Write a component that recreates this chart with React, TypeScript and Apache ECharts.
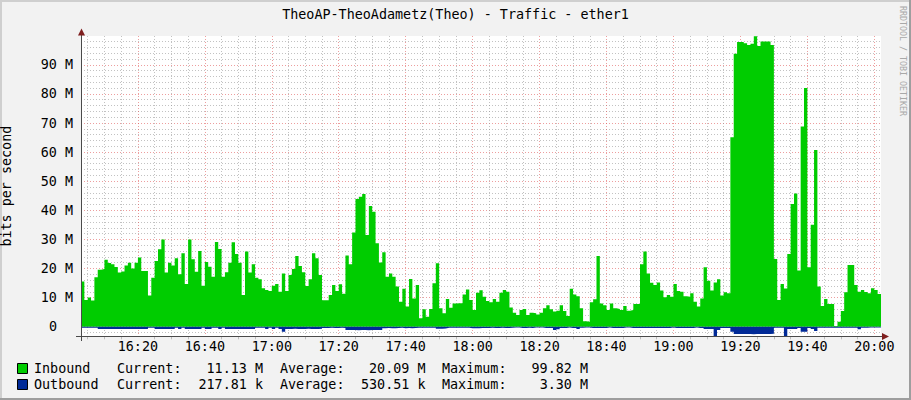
import React, { useEffect, useRef } from 'react';
import * as echarts from 'echarts';

const TITLE = 'TheoAP-TheoAdametz(Theo) - Traffic - ether1';
const Y_AXIS_NAME = 'bits per second';
const WATERMARK = 'RRDTOOL / TOBI OETIKER';

// time axis: minutes after 16:00, one sample per minute from 16:03 to 20:02
const BASE_HOUR = 16;
const START_MINUTE = 3;
const END_MINUTE = 242;
const Y_MIN = -3.3; // M
const Y_MAX = 99.9; // M

// Inbound traffic (Mbit/s), one value per minute starting 16:03
const inboundM = [
  15.5, 9.2, 10, 9, 17, 19.6, 19.8, 23, 21.9, 21.5,
  20.5, 18.6, 19, 21, 22, 20, 22, 23.8, 19.1, 19.1,
  10.7, 16.8, 22.6, 26.6, 30, 18.6, 22, 21, 23.5, 18,
  25.2, 14.7, 30, 23.2, 18.9, 26, 14.1, 22.2, 20.6, 17.2,
  29.1, 26.7, 17.2, 18.7, 22, 29, 25, 22, 10.9, 25.8,
  18.6, 21.5, 16.8, 16.3, 13.2, 12.6, 12.3, 14.1, 14.7, 12,
  18.3, 12.3, 17.8, 19.8, 24.3, 20.9, 18.7, 14, 16.3, 25.2,
  23.5, 17.8, 9.1, 9.1, 10.9, 14.3, 12.3, 14.6, 11.3, 24.5,
  21.5, 32.4, 43.9, 44.7, 45.6, 31.5, 41.5, 39.5, 28.7, 22.1,
  25.6, 17.2, 18.3, 17.2, 13.8, 8.6, 13, 6.9, 16.4, 9.7,
  14.3, 2.9, 6, 3.4, 6.1, 14.9, 21.8, 6.3, 4.6, 9.5,
  6.5, 8, 8.1, 8.1, 11.1, 12.8, 9.2, 5.7, 11.7, 12.5,
  10.3, 8.8, 8.4, 9.5, 8.6, 11.7, 12.6, 12, 6.6, 4.8,
  4, 5.7, 6.1, 4, 4.8, 4.6, 4.2, 4.8, 6.3, 7.4,
  6, 5.2, 5.5, 7.4, 5.4, 3.7, 13, 11.1, 10.5, 6.3,
  1.9, 1.7, 8.4, 9.4, 24.3, 8, 7.4, 5.7, 8, 6.3,
  6.1, 5.7, 7.1, 5.5, 5.7, 7.8, 7.8, 21.5, 25.8, 18.3,
  15.1, 14.3, 15.2, 12.4, 10.1, 10.9, 10.3, 14.7, 12.3, 12,
  10.5, 10.3, 11.5, 8.6, 6.9, 9.7, 20.4, 15.8, 12.4, 15.2,
  16.3, 10.7, 11.8, 11.5, 65.1, 93.8, 97.8, 97.8, 97.4, 96.8,
  97.2, 99.8, 96.5, 98, 98, 98, 96.8, 23.3, 9.2, 14.7,
  13.1, 25, 42.2, 45.8, 19.3, 68.8, 82, 20.4, 35, 60.7,
  13.8, 7.1, 9.5, 7.8, 7.8, 0.2, 1.7, 5.4, 11.8, 21.2,
  21.2, 14.3, 12, 12.6, 11.9, 11.5, 13.2, 12.6, 11.2, 11.13,
];

// Outbound traffic (Mbit/s), drawn below the zero line
const outboundM = [
  0.35, 0.35, 0.35, 0.35, 0.35, 0.8, 0.8, 0.8, 0.8, 0.8,
  0.8, 0.8, 0.8, 0.8, 0.8, 0.8, 0.8, 0.8, 0.8, 0.8,
  0.35, 0.4, 0.8, 0.8, 0.8, 0.8, 0.8, 0.8, 0.35, 0.8,
  0.35, 0.8, 0.8, 0.8, 0.8, 0.8, 0.35, 0.8, 0.8, 0.35,
  0.4, 0.8, 0.35, 0.8, 0.8, 0.8, 0.8, 0.8, 0.8, 0.8,
  0.8, 0.8, 0.35, 0.35, 0.4, 0.8, 0.35, 0.8, 0.35, 0.8,
  1.7, 0.8, 0.8, 0.7, 0.8, 0.8, 0.8, 0.7, 0.8, 0.8,
  0.8, 0.7, 0.45, 0.45, 0.4, 0.45, 0.45, 0.4, 0.45, 1.1,
  1.15, 1.15, 1.2, 1.15, 1.15, 1.2, 1.15, 1.15, 1.1, 1.1,
  0.5, 0.45, 0.5, 0.5, 0.45, 0.4, 0.5, 0.45, 0.5, 0.45,
  0.4, 0.35, 0.35, 0.4, 0.35, 0.4, 0.7, 0.7, 0.6, 0.4,
  0.4, 0.35, 0.4, 0.4, 0.35, 0.4, 0.5, 0.5, 0.5, 0.45,
  0.45, 0.45, 0.4, 0.45, 0.45, 0.4, 0.45, 0.45, 0.4, 0.3,
  0.3, 0.45, 0.45, 0.4, 0.45, 0.3, 0.3, 0.3, 0.45, 0.45,
  0.45, 1.15, 0.9, 0.45, 0.45, 0.3, 0.45, 0.45, 0.8, 0.35,
  0.3, 0.3, 0.45, 0.45, 0.45, 0.45, 0.45, 0.3, 0.45, 0.45,
  0.45, 0.45, 0.3, 0.3, 0.45, 0.45, 0.45, 0.45, 0.45, 0.45,
  0.45, 0.45, 0.45, 0.45, 0.45, 0.45, 0.3, 0.45, 0.45, 0.45,
  0.45, 0.45, 0.45, 0.3, 0.45, 0.45, 0.8, 0.8, 0.8, 3.2,
  1.1, 0.45, 0.45, 0.45, 1.7, 2.5, 2.5, 2.5, 2.5, 2.5,
  2.6, 2.5, 2.5, 2.5, 2.5, 2.5, 2.4, 0.35, 0.35, 0.35,
  3.3, 0.8, 0.8, 0.8, 0.45, 1.7, 1.7, 0.45, 0.8, 1.5,
  0.35, 0.35, 0.35, 0.35, 0.35, 0.35, 0.35, 0.35, 0.35, 0.35,
  0.35, 0.35, 0.9, 0.35, 0.35, 0.3, 0.3, 0.3, 0.3, 0.22,
];

const legendRows = [
  { name: 'Inbound', color: '#00CC00', current: '11.13 M', average: '20.09 M', maximum: '99.82 M' },
  { name: 'Outbound', color: '#002A97', current: '217.81 k', average: '530.51 k', maximum: '3.30 M' },
];

const FONT = '"DejaVu Sans Mono", monospace';
const FS = 13.4;
const AXIS_COLOR = '#4a4a4a';
const ARROW_COLOR = '#7F1F1F';
const GRID_COLOR = 'rgba(143,143,143,0.55)';
const MGRID_COLOR = 'rgba(222,79,79,0.55)';

function pad2(n: number) {
  return n < 10 ? '0' + n : String(n);
}

export default function App() {
  const ref = useRef<HTMLDivElement>(null);

  useEffect(() => {
    document.body.style.margin = '0';
    if (!ref.current) return;
    const chart = echarts.init(ref.current, undefined, { renderer: 'svg' });

    const inboundData = inboundM.map((v, i) => [START_MINUTE + i, v]);
    const outboundData = outboundM.map((v, i) => [START_MINUTE + i, -v]);

    const legendGraphics: any[] = [];
    legendRows.forEach((r, idx) => {
      const yc = 368.5 + idx * 16;
      const ts = { fontFamily: FONT, fontSize: FS, fill: '#000', verticalAlign: 'middle' };
      legendGraphics.push(
        { type: 'rect', shape: { x: 17.5, y: yc - 5, width: 10, height: 10 }, style: { fill: r.color, stroke: '#000', lineWidth: 1 } },
        { type: 'text', x: 34, y: yc, style: { ...ts, text: r.name, align: 'left' } },
        { type: 'text', x: 117, y: yc, style: { ...ts, text: 'Current:', align: 'left' } },
        { type: 'text', x: 263, y: yc, style: { ...ts, text: r.current, align: 'right' } },
        { type: 'text', x: 280, y: yc, style: { ...ts, text: 'Average:', align: 'left' } },
        { type: 'text', x: 425.5, y: yc, style: { ...ts, text: r.average, align: 'right' } },
        { type: 'text', x: 442, y: yc, style: { ...ts, text: 'Maximum:', align: 'left' } },
        { type: 'text', x: 588, y: yc, style: { ...ts, text: r.maximum, align: 'right' } }
      );
    });

    const option: any = {
      animation: false,
      backgroundColor: '#F2F2F2',
      textStyle: { fontFamily: FONT },
      grid: {
        left: 81,
        right: 30,
        top: 36,
        bottom: 63.7,
        show: true,
        backgroundColor: '#FFFFFF',
        borderWidth: 0,
        containLabel: false,
        outerBoundsMode: 'none',
      },
      xAxis: {
        type: 'value',
        min: START_MINUTE,
        max: END_MINUTE,
        splitNumber: 12,
        axisLine: { show: true, onZero: false, lineStyle: { color: AXIS_COLOR, width: 1 } },
        axisTick: { show: false },
        minorTick: { show: true, splitNumber: 4, length: 3, lineStyle: { color: '#bdbdbd' } },
        axisLabel: {
          margin: 4,
          color: '#000',
          fontFamily: FONT,
          fontSize: FS,
          formatter: (v: number) => {
            if (Math.abs(v % 20) > 1e-6) return '';
            const h = BASE_HOUR + Math.floor(v / 60);
            const m = Math.round(v % 60);
            return `${h}:${pad2(m)}`;
          },
        },
        splitLine: {
          show: true,
          showMinLine: false,
          showMaxLine: false,
          lineStyle: { color: MGRID_COLOR, type: [1, 2], width: 1 },
        },
        minorSplitLine: { show: true, lineStyle: { color: GRID_COLOR, type: [1, 2], width: 1 } },
      },
      yAxis: {
        type: 'value',
        min: Y_MIN,
        max: Y_MAX,
        splitNumber: 10,
        name: Y_AXIS_NAME,
        nameLocation: 'middle',
        nameGap: 68,
        nameRotate: 90,
        nameTextStyle: { fontFamily: FONT, fontSize: FS, color: '#000' },
        axisLine: { show: true, onZero: false, lineStyle: { color: AXIS_COLOR, width: 1 } },
        axisTick: { show: false },
        minorTick: { show: false, splitNumber: 5 },
        axisLabel: {
          margin: 8,
          color: '#000',
          fontFamily: FONT,
          fontSize: FS,
          formatter: (v: number) => {
            const r = Math.round(v);
            if (Math.abs(v - r) > 1e-6 || r % 10 !== 0 || r < 0) return '';
            if (r === 0) return '{z|0}';
            return `${r} M`;
          },
          rich: { z: { fontFamily: FONT, fontSize: FS, color: '#000', padding: [0, 16, 0, 0] } },
        },
        splitLine: {
          show: true,
          showMinLine: false,
          showMaxLine: false,
          lineStyle: { color: MGRID_COLOR, type: [1, 2], width: 1 },
        },
        minorSplitLine: { show: true, lineStyle: { color: GRID_COLOR, type: [1, 2], width: 1 } },
      },
      series: [
        {
          type: 'line',
          name: 'Inbound',
          data: inboundData,
          step: 'end',
          symbol: 'none',
          lineStyle: { width: 0, color: '#00CC00' },
          itemStyle: { color: '#00CC00' },
          areaStyle: { color: '#00CC00', opacity: 1 },
          z: 3,
        },
        {
          type: 'line',
          name: 'Outbound',
          data: outboundData,
          step: 'end',
          symbol: 'none',
          lineStyle: { width: 0, color: '#002A97' },
          itemStyle: { color: '#002A97' },
          areaStyle: { color: '#002A97', opacity: 1 },
          z: 4,
        },
      ],
      graphic: [
        // 3D frame
        { type: 'rect', shape: { x: 0, y: 0, width: 911, height: 2 }, style: { fill: '#CFCFCF' }, silent: true },
        { type: 'rect', shape: { x: 0, y: 0, width: 2, height: 400 }, style: { fill: '#CFCFCF' }, silent: true },
        { type: 'rect', shape: { x: 909, y: 0, width: 2, height: 400 }, style: { fill: '#9E9E9E' }, silent: true },
        { type: 'rect', shape: { x: 0, y: 398, width: 911, height: 2 }, style: { fill: '#9E9E9E' }, silent: true },
        // title
        {
          type: 'text',
          x: 455.5,
          y: 14,
          style: { text: TITLE, fontFamily: FONT, fontSize: FS, fill: '#000', align: 'center', verticalAlign: 'middle' },
        },
        // watermark
        {
          type: 'text',
          x: 903,
          y: 6,
          rotation: -Math.PI / 2,
          style: { text: WATERMARK, fontFamily: FONT, fontSize: 8.3, fill: '#A8A8A8', align: 'left', verticalAlign: 'middle' },
        },
        // axis extensions and arrows
        { type: 'line', shape: { x1: 76, y1: 336.5, x2: 884, y2: 336.5 }, style: { stroke: AXIS_COLOR, lineWidth: 1 }, z: 100 },
        { type: 'line', shape: { x1: 81.5, y1: 32, x2: 81.5, y2: 341 }, style: { stroke: AXIS_COLOR, lineWidth: 1 }, z: 100 },
        { type: 'polygon', shape: { points: [[882, 333], [889, 336.5], [882, 340]] }, style: { fill: ARROW_COLOR }, z: 100 },
        { type: 'polygon', shape: { points: [[78, 35.5], [81.5, 28.5], [85, 35.5]] }, style: { fill: ARROW_COLOR }, z: 100 },
        ...legendGraphics,
      ],
    };

    chart.setOption(option);
    return () => {
      chart.dispose();
    };
  }, []);

  return <div ref={ref} style={{ width: 911, height: 400 }} />;
}
